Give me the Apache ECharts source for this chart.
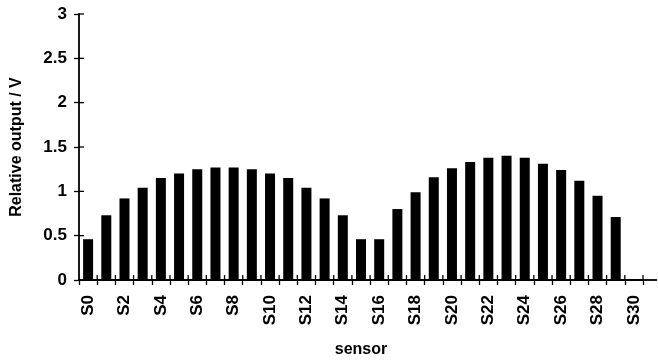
<!DOCTYPE html>
<html>
<head>
<meta charset="utf-8">
<script src="https://cdn.jsdelivr.net/npm/echarts@6/dist/echarts.min.js"></script>
<style>html,body{margin:0;padding:0;background:#fff;}#c{width:658px;height:363px;}</style>
</head>
<body>
<div id="c"></div>
<script>
const categories = ['S0','S1','S2','S3','S4','S5','S6','S7','S8','S9','S10','S11','S12','S13','S14','S15','S16','S17','S18','S19','S20','S21','S22','S23','S24','S25','S26','S27','S28','S29','S30'];
const outputValues = [0.46,0.73,0.92,1.04,1.15,1.2,1.25,1.27,1.27,1.25,1.2,1.15,1.04,0.92,0.73,0.46,0.46,0.8,0.99,1.16,1.26,1.33,1.38,1.4,1.38,1.31,1.24,1.12,0.95,0.71,null];
const yTicks = [0,0.5,1,1.5,2,2.5,3];

const FONT = '"Liberation Sans", Arial, sans-serif';
const W = 658, H = 363;
const gridBox = {left: 79, right: 15, top: 14, bottom: 78};
const TICK = 5;
const chart = echarts.init(document.getElementById('c'), null, {renderer: 'canvas'});
chart.setOption({
  animation: false,
  backgroundColor: '#fff',
  grid: gridBox,
  xAxis: {
    type: 'category', data: categories, boundaryGap: true,
    name: 'sensor', nameLocation: 'middle', nameGap: 62,
    nameTextStyle: {fontFamily: FONT, fontWeight: 'bold', fontSize: 16, color: '#000'},
    axisLine: {lineStyle: {color: '#000', width: 1.8}},
    axisTick: {show: true, interval: 0, length: TICK, lineStyle: {color: '#000', width: 1.3}},
    axisLabel: {interval: 1, rotate: 90, margin: 15, fontFamily: FONT, fontWeight: 'bold', fontSize: 17, color: '#000'},
    splitLine: {show: false}
  },
  yAxis: {
    type: 'value', min: yTicks[0], max: yTicks[yTicks.length-1], interval: 0.5,
    name: 'Relative output / V', nameLocation: 'middle', nameGap: 54, nameRotate: 90,
    nameTextStyle: {fontFamily: FONT, fontWeight: 'bold', fontSize: 16, color: '#000'},
    axisLine: {show: true, lineStyle: {color: '#000', width: 1.8}},
    axisTick: {show: true, length: TICK, lineStyle: {color: '#000', width: 1.3}},
    axisLabel: {margin: 12, fontFamily: FONT, fontWeight: 'bold', fontSize: 17, color: '#000'},
    splitLine: {show: false}
  },
  series: [{
    type: 'bar', data: outputValues,
    barWidth: 10, itemStyle: {color: '#000'}
  }]
});

// inner halves of the crossing tick marks, placed through the chart's own scales
const tickStyle = {stroke: '#000', lineWidth: 1.3};
const x0 = chart.convertToPixel({xAxisIndex: 0}, categories[0]);
const x1 = chart.convertToPixel({xAxisIndex: 0}, categories[1]);
const band = x1 - x0;
const yZero = chart.convertToPixel({yAxisIndex: 0}, yTicks[0]);
const yAxisX = x0 - band / 2;
const xLast = chart.convertToPixel({xAxisIndex: 0}, categories[categories.length - 1]) + band / 2;
const graphics = [];
for (let i = 1; i <= categories.length; i++) {
  const bx = chart.convertToPixel({xAxisIndex: 0}, categories[i - 1]) + band / 2;
  graphics.push({type: 'line', silent: true, z: 10, shape: {x1: bx, y1: yZero, x2: bx, y2: yZero - TICK}, style: tickStyle});
}
yTicks.forEach(v => {
  const py = chart.convertToPixel({yAxisIndex: 0}, v);
  graphics.push({type: 'line', silent: true, z: 10, shape: {x1: yAxisX, y1: py, x2: yAxisX + TICK, y2: py}, style: tickStyle});
});
// axis line continues a little past the last category, as in the reference
graphics.push({type: 'line', silent: true, z: 10, shape: {x1: xLast, y1: yZero, x2: W - 1, y2: yZero}, style: {stroke: '#000', lineWidth: 1.8}});
chart.setOption({graphic: graphics});
</script>
</body>
</html>
